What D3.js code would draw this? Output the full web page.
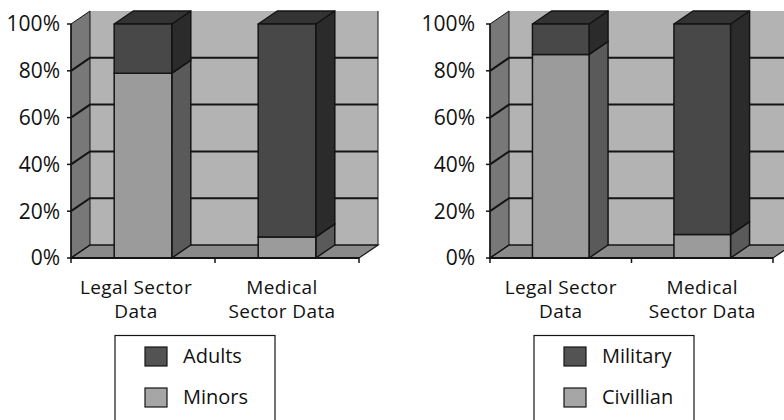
<!DOCTYPE html>
<html>
<head>
<meta charset="utf-8">
<script src="https://cdn.jsdelivr.net/npm/d3@7"></script>
<style>
  html, body { margin: 0; padding: 0; background: #fff; }
  svg { display: block; font-family: "Open Sans", "Noto Sans", sans-serif; }
</style>
</head>
<body>
<svg id="chart" width="784" height="420"></svg>
<script>
// Categories and their two-line axis labels
const categories = ["Legal Sector Data", "Medical Sector Data"];
const categoryLines = [["Legal Sector", "Data"], ["Medical", "Sector Data"]];

// Percentage axis
const tickValues = [0, 20, 40, 60, 80, 100];
const tickLabels = ["0%", "20%", "40%", "60%", "80%", "100%"];

// Chart 1: age groups (percent of each sector)
const ageSeries = ["Adults", "Minors"];
const adultsValues = [21, 91];
const minorsValues = [79, 9];

// Chart 2: service status (percent of each sector)
const serviceSeries = ["Military", "Civillian"];
const militaryValues = [13, 90];
const civilianValues = [87, 10];

const svg = d3.select("#chart");

// 3D depth offset of the back plane
const DX = 19, DY = -13;

const palette = {
  backWall: "#b3b3b3",
  leftWall: "#787878",
  floor: "#8a8a8a",
  line: "#141414",
  dark:  { front: "#484848", side: "#2b2b2b", top: "#333333", swatch: "#535353" },
  light: { front: "#9b9b9b", side: "#5a5a5a", top: "#7a7a7a", swatch: "#a6a6a6" }
};

function drawChart(cfg) {
  const g = svg.append("g");
  const y = d3.scaleLinear().domain([0, 100]).range([258, 24]);
  const x = d3.scaleBand().domain(categories)
    .range([cfg.x0, cfg.x1]).paddingInner(0.6).paddingOuter(0.3);
  const step = x.step();
  const y0 = y(0), yTop = y(100);
  const x0 = cfg.x0, x1 = cfg.x1;

  // back wall with its right edge
  g.append("rect")
    .attr("x", x0 + DX).attr("y", yTop + DY)
    .attr("width", x1 - x0).attr("height", y0 - yTop)
    .attr("fill", palette.backWall);
  g.append("line")
    .attr("x1", x1 + DX).attr("x2", x1 + DX)
    .attr("y1", yTop + DY).attr("y2", y0 + DY)
    .attr("stroke", palette.line).attr("stroke-width", 1);

  // left wall
  g.append("polygon")
    .attr("points", [[x0, y0], [x0 + DX, y0 + DY], [x0 + DX, yTop + DY], [x0, yTop]].join(" "))
    .attr("fill", palette.leftWall)
    .attr("stroke", palette.line).attr("stroke-width", 1);

  // floor
  g.append("polygon")
    .attr("points", [[x0, y0], [x1, y0], [x1 + DX, y0 + DY], [x0 + DX, y0 + DY]].join(" "))
    .attr("fill", palette.floor)
    .attr("stroke", palette.line).attr("stroke-width", 1.2);

  // gridlines across left wall and back wall
  g.append("g").selectAll("polyline")
    .data(tickValues.filter(v => v < 100))
    .join("polyline")
    .attr("points", v => [[x0, y(v)], [x0 + DX, y(v) + DY], [x1 + DX, y(v) + DY]].join(" "))
    .attr("fill", "none")
    .attr("stroke", palette.line)
    .attr("stroke-width", v => v === 0 ? 1.2 : 2);

  // stacked columns: light series at the bottom, dark series on top
  const rows = categories.map((c, i) => ({ cat: c, light: cfg.lightValues[i], dark: cfg.darkValues[i] }));
  const stacked = d3.stack().keys(["light", "dark"])(rows);

  stacked.forEach(layer => {
    const col = palette[layer.key];
    layer.forEach(d => {
      const cat = d.data.cat;
      const xl = x(cat), xr = x(cat) + x.bandwidth();
      const yb = y(d[0]), yt = y(d[1]);
      const bar = g.append("g")
        .attr("stroke", palette.line).attr("stroke-width", 1.5).attr("stroke-linejoin", "round");
      bar.append("polygon")
        .attr("points", [[xr, yb], [xr + DX, yb + DY], [xr + DX, yt + DY], [xr, yt]].join(" "))
        .attr("fill", col.side);
      bar.append("polygon")
        .attr("points", [[xl, yt], [xr, yt], [xr + DX, yt + DY], [xl + DX, yt + DY]].join(" "))
        .attr("fill", col.top);
      bar.append("rect")
        .attr("x", xl).attr("y", yt)
        .attr("width", xr - xl).attr("height", yb - yt)
        .attr("fill", col.front);
    });
  });

  // value axis line and ticks
  g.append("line")
    .attr("x1", x0).attr("x2", x0).attr("y1", y0).attr("y2", yTop)
    .attr("stroke", palette.line).attr("stroke-width", 1.5);
  g.append("g").selectAll("line")
    .data(tickValues).join("line")
    .attr("x1", x0 - 4).attr("x2", x0)
    .attr("y1", v => y(v)).attr("y2", v => y(v))
    .attr("stroke", palette.line).attr("stroke-width", 1.5);
  g.append("g").selectAll("text")
    .data(tickValues).join("text")
    .attr("x", x0 - cfg.tickGap)
    .attr("y", v => y(v))
    .attr("dy", "0.35em")
    .attr("text-anchor", "end")
    .attr("font-size", 21)
    .attr("fill", "#111")
    .text((v, i) => tickLabels[i]);

  // category axis line and boundary ticks
  g.append("line")
    .attr("x1", x0).attr("x2", x1).attr("y1", y0).attr("y2", y0)
    .attr("stroke", palette.line).attr("stroke-width", 2);
  const bounds = d3.range(categories.length + 1).map(i => x0 + i * step);
  g.append("g").selectAll("line")
    .data(bounds).join("line")
    .attr("x1", d => d).attr("x2", d => d)
    .attr("y1", y0).attr("y2", y0 + 5)
    .attr("stroke", palette.line).attr("stroke-width", 1.5);

  // category labels, one text per line
  categories.forEach((c, i) => {
    const cx = x(c) + x.bandwidth() / 2 + cfg.labelDx[i];
    categoryLines[i].forEach((line, k) => {
      g.append("text")
        .attr("x", cx).attr("y", 294 + k * 23.5)
        .attr("text-anchor", "middle")
        .attr("font-size", 19)
        .attr("letter-spacing", 0.4)
        .attr("fill", "#111")
        .text(line);
    });
  });

  // legend
  const lx = x0 + 44;
  const lg = g.append("g");
  lg.append("rect")
    .attr("x", lx).attr("y", 335.5)
    .attr("width", 160).attr("height", 120)
    .attr("fill", "#fff").attr("stroke", palette.line).attr("stroke-width", 1.2);
  const entries = [
    { name: cfg.series[0], col: palette.dark.swatch },
    { name: cfg.series[1], col: palette.light.swatch }
  ];
  entries.forEach((e, i) => {
    const ey = 347 + i * 41;
    lg.append("rect")
      .attr("x", lx + 30).attr("y", ey)
      .attr("width", 22).attr("height", 19)
      .attr("fill", e.col).attr("stroke", palette.line).attr("stroke-width", 1.2);
    lg.append("text")
      .attr("x", lx + 68).attr("y", ey + 16)
      .attr("font-size", 20)
      .attr("fill", "#111")
      .text(e.name);
  });
}

drawChart({
  x0: 71, x1: 359, tickGap: 11, labelDx: [-7, -5],
  series: ageSeries, darkValues: adultsValues, lightValues: minorsValues
});
drawChart({
  x0: 490, x1: 773, tickGap: 15, labelDx: [0, 0],
  series: serviceSeries, darkValues: militaryValues, lightValues: civilianValues
});
</script>
</body>
</html>
